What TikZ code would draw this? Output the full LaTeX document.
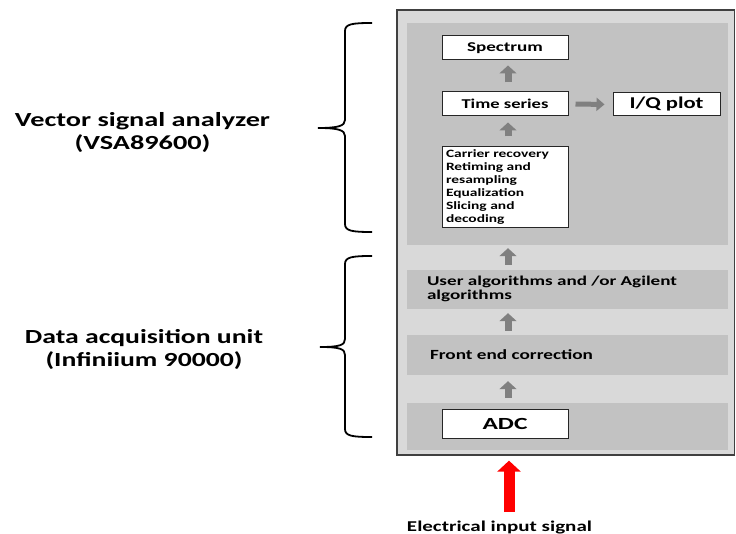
\documentclass[tikz,border=0pt]{standalone}
\usepackage{fontspec}
\setmainfont{Carlito}
\usepackage{graphicx}
\usetikzlibrary{arrows.meta}
\definecolor{outergray}{HTML}{D9D9D9}
\definecolor{panelgray}{HTML}{C2C2C2}
\definecolor{arrowgray}{HTML}{808080}
\definecolor{boxline}{HTML}{404040}
\newcommand\fitw[2]{\resizebox{#1}{\height}{#2}}
\begin{document}
\begin{tikzpicture}[x=1pt,y=-1pt,
  outer/.style={draw=boxline, line width=1.3pt, fill=outergray, inner sep=0pt},
  panel/.style={fill=panelgray, inner sep=0pt, minimum width=321pt},
  wbox/.style={draw=black!85, line width=1pt, fill=white, inner sep=0pt, minimum width=126pt},
  lbl/.style={font=\bfseries\fontsize{20}{23}\selectfont, inner sep=0pt, anchor=base},
  garrow/.style={draw=arrowgray, line width=7pt, -{Triangle[width=17pt,length=8pt]}},
  harrow/.style={draw=arrowgray, line width=5pt, -{Triangle[width=13pt,length=8pt]}},
  redarrow/.style={draw=red, line width=11pt, -{Triangle[width=23pt,length=11pt]}},
  bracestyle/.style={draw=black, line width=1.8pt}
]
\useasboundingbox (0,0) rectangle (736,534);
\fill[white] (0,0) rectangle (736,534);

% outer box and panels
\node[outer, minimum width=337.5pt, minimum height=445pt] (outer) at (565.75,232.5) {};
\node[panel, minimum height=222pt] (vsa) at (567.5,134) {};
\node[panel, minimum height=39pt] (user) at (567.5,289.5)
  {\makebox[281pt][l]{\fitw{250pt}{\bfseries\fontsize{13.5}{14}\selectfont\begin{tabular}{@{}l@{}}User algorithms and /or Agilent\\algorithms\end{tabular}}}};
\node[panel, minimum height=40pt] (front) at (567.5,355)
  {\makebox[275pt][l]{\fitw{163pt}{\bfseries\fontsize{14}{15}\selectfont Front end correction}}};
\node[panel, minimum height=47pt] (adcpanel) at (567.5,426.5) {};

% white boxes
\node[wbox, minimum height=24pt] (spec) at (505,48)
  {\fitw{76pt}{\bfseries\fontsize{13.5}{14}\selectfont Spectrum}};
\node[wbox, minimum height=24pt] (ts) at (505,104)
  {\fitw{87pt}{\bfseries\fontsize{13.5}{14}\selectfont Time series}};
\node[wbox, minimum width=107pt, minimum height=23pt] (iq) at (666.5,104.5)
  {\fitw{74pt}{\bfseries\fontsize{16.5}{17}\selectfont I/Q plot}};
\node[wbox, minimum height=81pt] (carrier) at (505,187.5)
  {\makebox[118pt][l]{\fitw{103pt}{\bfseries\fontsize{11.2}{13}\selectfont\begin{tabular}{@{}l@{}}Carrier recovery\\Retiming and\\resampling\\Equalization\\Slicing and\\decoding\end{tabular}}}};
\node[wbox, minimum height=29pt] (adc) at (505,423.5)
  {\fitw{45pt}{\bfseries\fontsize{17}{18}\selectfont ADC}};

% gray arrows
\coordinate (ax) at (508,0);
\draw[garrow, shorten <=9pt, shorten >=5pt] (ax |- ts.north) -- (ax |- spec.south);
\draw[garrow, shorten <=10pt, shorten >=6pt] (ax |- carrier.north) -- (ax |- ts.south);
\draw[garrow, shorten <=5pt, shorten >=3pt] (ax |- user.north) -- (ax |- vsa.south);
\draw[garrow, shorten <=4pt, shorten >=4pt] (ax |- front.north) -- (ax |- user.south);
\draw[garrow, shorten <=5pt, shorten >=6pt] (ax |- adcpanel.north) -- (ax |- front.south);
\draw[harrow, shorten <=7pt, shorten >=8pt] (ts.east) -- (iq.west);

% red input arrow
\coordinate (sig) at (509,512);
\draw[redarrow, shorten >=5pt] (sig) -- (sig |- outer.south);
\node[inner sep=0pt, anchor=base] (elec) at (499.5,531)
  {\fitw{185pt}{\bfseries\fontsize{15}{16}\selectfont Electrical input signal}};

% left labels
\node[lbl] (vsalbl) at (142.5,127)
  {\fitw{255pt}{\begin{tabular}[t]{@{}c@{}}Vector signal analyzer\\(VSA89600)\end{tabular}}};
\node[lbl] (daulbl) at (144,344)
  {\fitw{238pt}{\fontsize{20}{22}\selectfont\begin{tabular}[t]{@{}c@{}}Data acquisition unit\\(Infiniium 90000)\end{tabular}}};

% braces
\draw[bracestyle] (372,23) .. controls (352,23) and (345,24) .. (345,31) -- (345,120)
  .. controls (345,126) and (338,128) .. (318,128)
  .. controls (338,128) and (345,130) .. (345,136) -- (345,224)
  .. controls (345,231) and (352,232) .. (372,232);
\draw[bracestyle] (372,256) .. controls (352,256) and (345,257) .. (345,264) -- (345,339)
  .. controls (345,345) and (340,347) .. (320,347)
  .. controls (340,347) and (345,349) .. (345,355) -- (345,429)
  .. controls (345,436) and (352,437) .. (372,437);
\end{tikzpicture}
\end{document}
